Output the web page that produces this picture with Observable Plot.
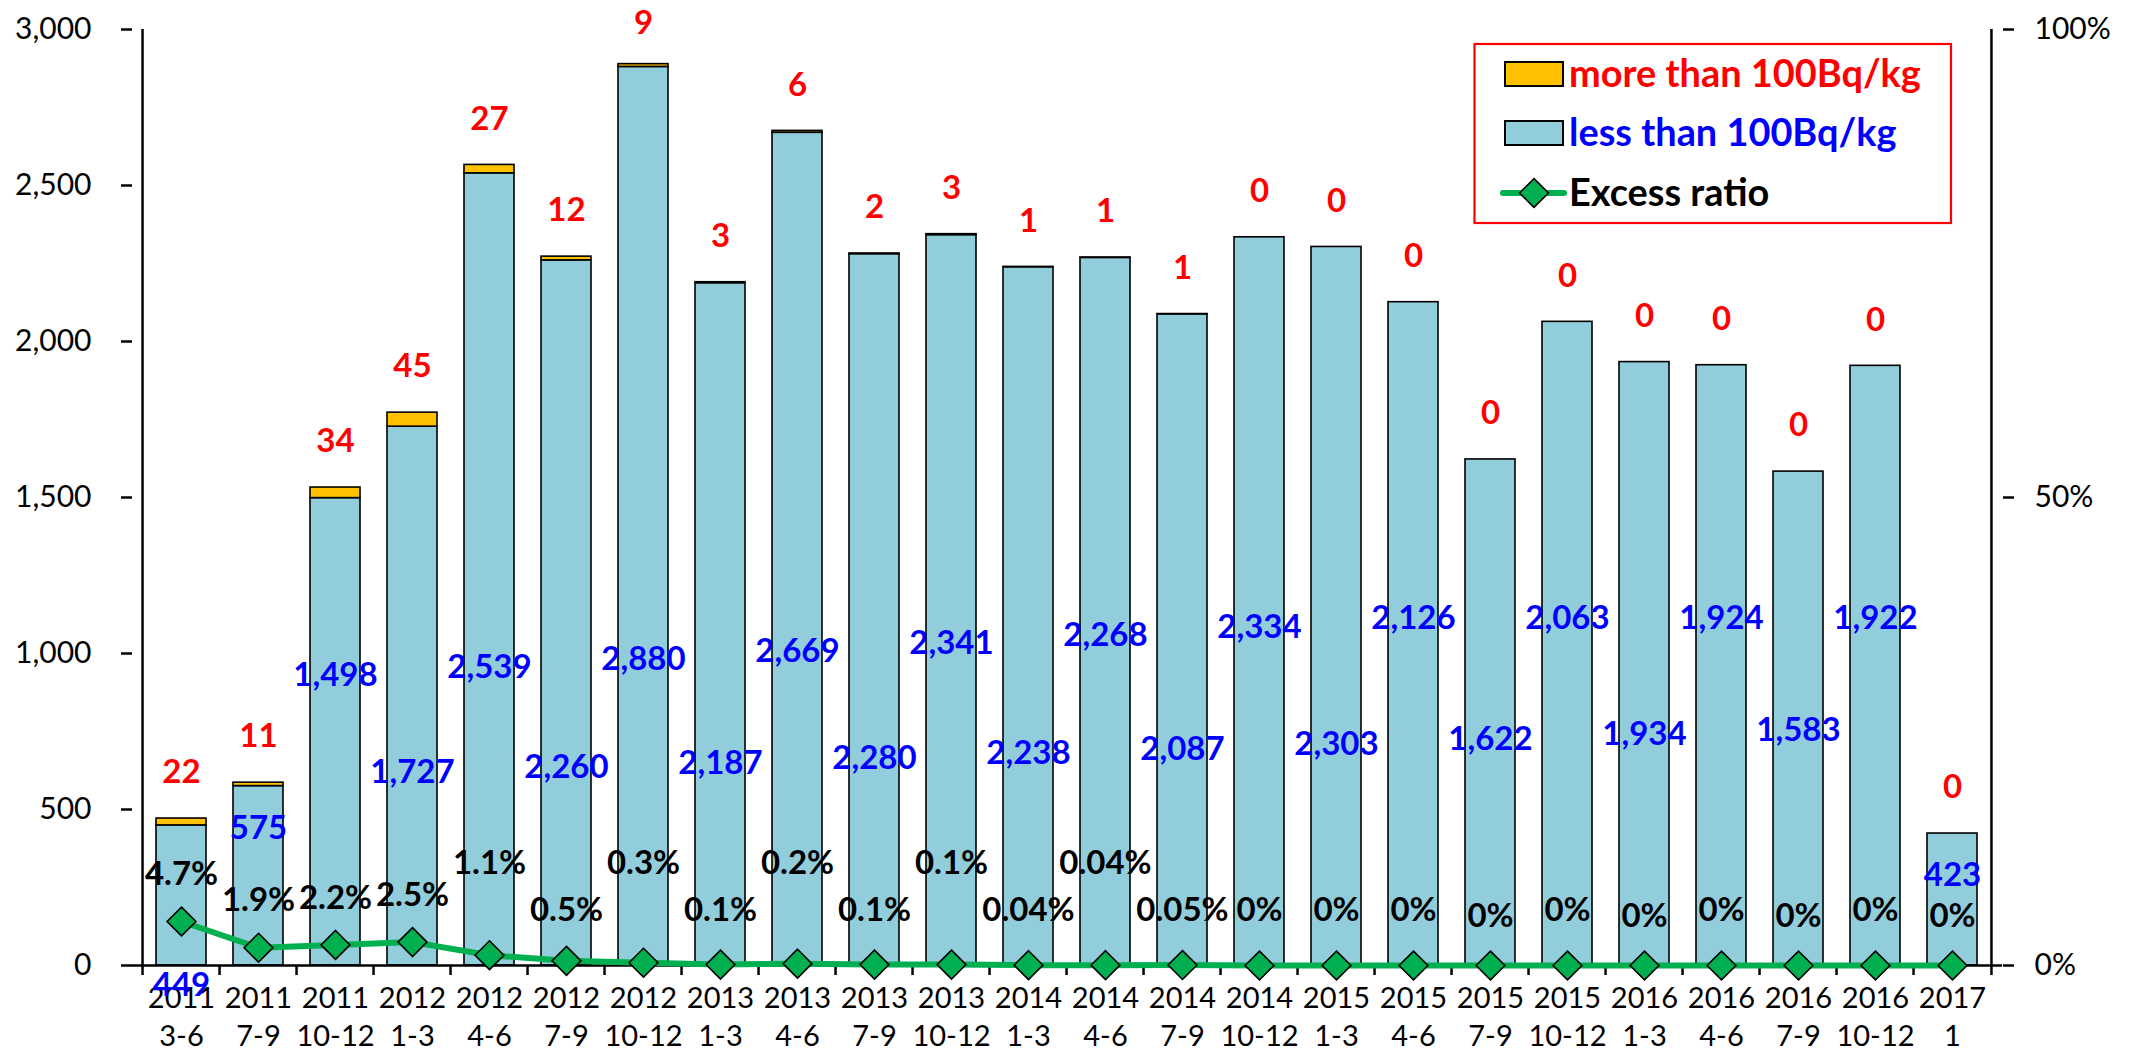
<!DOCTYPE html>
<html>
<head>
<meta charset="utf-8">
<script src="https://cdn.jsdelivr.net/npm/d3@7"></script>
<script src="https://cdn.jsdelivr.net/npm/@observablehq/plot@0.6"></script>
<style>
  html, body { margin: 0; padding: 0; background: #fff; }
  #chart { width: 2130px; height: 1050px; }
</style>
</head>
<body>
<div id="chart"></div>
<script>
// ---- data ----
const periods = ["2011 3-6","2011 7-9","2011 10-12","2012 1-3","2012 4-6","2012 7-9","2012 10-12",
  "2013 1-3","2013 4-6","2013 7-9","2013 10-12","2014 1-3","2014 4-6","2014 7-9","2014 10-12",
  "2015 1-3","2015 4-6","2015 7-9","2015 10-12","2016 1-3","2016 4-6","2016 7-9","2016 10-12","2017 1"];
const lessThan100 = [449,575,1498,1727,2539,2260,2880,2187,2669,2280,2341,2238,2268,2087,2334,2303,2126,1622,2063,1934,1924,1583,1922,423];
const moreThan100 = [22,11,34,45,27,12,9,3,6,2,3,1,1,1,0,0,0,0,0,0,0,0,0,0];
const excessRatio = [4.7,1.9,2.2,2.5,1.1,0.5,0.3,0.1,0.2,0.1,0.1,0.04,0.04,0.05,0,0,0,0,0,0,0,0,0,0];
const ratioLabels = ["4.7%","1.9%","2.2%","2.5%","1.1%","0.5%","0.3%","0.1%","0.2%","0.1%","0.1%","0.04%","0.04%","0.05%",
  "0%","0%","0%","0%","0%","0%","0%","0%","0%","0%"];
const leftTicks = [0,500,1000,1500,2000,2500,3000];
const rightTicks = [0,50,100];
const legendLabels = ["more than 100Bq/kg","less than 100Bq/kg","Excess ratio"];

const rows = periods.map((p, i) => ({
  i, p, less: lessThan100[i], more: moreThan100[i], ratio: excessRatio[i], rlabel: ratioLabels[i]
}));

// ---- layout ----
const W = 2130, H = 1050;
const mL = 132, mR = 128, mT = 29, mB = 85;
const step = (W - mL - mR) / periods.length;
const YMAX = 3000;
const pct = v => v / 100 * YMAX; // right axis (0-100%) mapped onto left axis units

const BLUE = "#92CDDC", ORANGE = "#FFC000", GREEN = "#00B050";
const FONT = "Lato, 'Open Sans', sans-serif";

// label placement rules (in data units)
function blueAnchor(i, v) {
  if (i % 2 === 0) {
    const level = Math.min(929 + 13 * (i - 2), 1112);
    return v - 135 >= level ? {y: level, below: false} : {y: 0, below: true};
  }
  return {y: Math.min(619 + 7.5 * (i - 3), v - 135), below: false};
}
function pctLevel(i, r) {
  if (i < 4) return r + 5;
  if (i % 2 === 0 && i <= 12) return 10.9;
  return (i >= 17 && i % 2 === 1) ? 5.2 : 5.9;
}
rows.forEach(d => {
  const a = blueAnchor(d.i, d.less);
  d.blueY = a.y; d.below = a.below;
  d.pctY = pct(pctLevel(d.i, d.ratio));
  d.redY = Math.min(d.less + d.more + 147, 3020); // a little above the bar, kept inside the picture
});

const fmt = d3.format(",");

const chart = Plot.plot({
  width: W, height: H,
  marginLeft: mL, marginRight: mR, marginTop: mT, marginBottom: mB,
  style: {fontFamily: FONT, background: "#fff", overflow: "visible"},
  x: {type: "band", domain: periods, paddingInner: 0.345, paddingOuter: 0.1725, align: 0.5, axis: null},
  y: {domain: [0, YMAX], axis: null},
  marks: [
    Plot.barY(rows, {x: "p", y: "less", fill: BLUE, stroke: "black", strokeWidth: 1.6}),
    Plot.barY(rows.filter(d => d.more > 0), {x: "p", y1: "less", y2: d => d.less + d.more, fill: ORANGE, stroke: "black", strokeWidth: 1.6}),
    // axes
    Plot.axisY({ticks: leftTicks, tickFormat: fmt, tickSize: 11, tickPadding: 30, fontSize: 30, strokeWidth: 2.5, label: null, anchor: "left"}),
    Plot.axisY({ticks: rightTicks.map(pct), tickFormat: d => Math.round(d / YMAX * 100) + "%", tickSize: 11, tickPadding: 21, fontSize: 30, strokeWidth: 2.5, label: null, anchor: "right"}),
    Plot.axisX({tickSize: 0, tickPadding: 16, tickFormat: p => p.replace(" ", "\n"), fontSize: 29, lineHeight: 1.3, label: null}),
    Plot.ruleY([0], {stroke: "black", strokeWidth: 2.5}),
    Plot.ruleX(periods.slice(1), {x: d => d, dx: -step / 2, y1: -32, y2: 0, stroke: "black", strokeWidth: 2.5}),
    Plot.ruleX([periods[0]], {x: d => d, dx: -step / 2, y1: -32, y2: YMAX, stroke: "black", strokeWidth: 2.5}),
    Plot.ruleX([periods[periods.length - 1]], {x: d => d, dx: step / 2, y1: -32, y2: YMAX, stroke: "black", strokeWidth: 2.5}),
    // excess ratio
    Plot.line(rows, {x: "p", y: d => pct(d.ratio), stroke: GREEN, strokeWidth: 6}),
    Plot.dot(rows, {x: "p", y: d => pct(d.ratio), symbol: "diamond2", r: 13, fill: GREEN, stroke: "black", strokeWidth: 1.6}),
    // labels
    Plot.text(rows, {x: "p", y: "redY", text: d => String(d.more), fill: "#FF0000", fontWeight: "bold", fontSize: 33}),
    Plot.text(rows.filter(d => !d.below), {x: "p", y: "blueY", text: d => fmt(d.less), fill: "#0000FF", fontWeight: "bold", fontSize: 33}),
    Plot.text(rows.filter(d => d.below), {x: "p", y: "blueY", dy: 20, text: d => fmt(d.less), fill: "#0000FF", fontWeight: "bold", fontSize: 33}),
    Plot.text(rows, {x: "p", y: "pctY", text: "rlabel", fill: "black", fontWeight: "bold", fontSize: 33})
  ]
});

document.getElementById("chart").appendChild(chart);

// ---- legend (inside the plot area, top right) ----
const svg = d3.select(chart.tagName.toLowerCase() === "svg" ? chart : chart.querySelector("svg"));
const lg = svg.append("g").attr("font-family", FONT).attr("text-anchor", "start");
lg.append("rect").attr("x", 1474.5).attr("y", 44).attr("width", 476.5).attr("height", 179)
  .attr("fill", "#fff").attr("stroke", "#FF0000").attr("stroke-width", 2.2);
const rowsY = [74, 133, 193];
const colors = ["#FF0000", "#0000FF", "#000000"];
lg.append("rect").attr("x", 1505).attr("y", rowsY[0] - 12).attr("width", 58).attr("height", 24)
  .attr("fill", ORANGE).attr("stroke", "black").attr("stroke-width", 2);
lg.append("rect").attr("x", 1505).attr("y", rowsY[1] - 12).attr("width", 58).attr("height", 24)
  .attr("fill", BLUE).attr("stroke", "black").attr("stroke-width", 2);
lg.append("line").attr("x1", 1503).attr("x2", 1564).attr("y1", rowsY[2]).attr("y2", rowsY[2])
  .attr("stroke", GREEN).attr("stroke-width", 6).attr("stroke-linecap", "round");
lg.append("path").attr("d", d3.symbol(d3.symbolDiamond2, Math.PI * 13 * 13)())
  .attr("transform", `translate(1534,${rowsY[2]})`)
  .attr("fill", GREEN).attr("stroke", "black").attr("stroke-width", 1.6);
const texts = legendLabels.map((t, k) =>
  lg.append("text").attr("x", 1569).attr("y", rowsY[k]).attr("dy", "0.35em")
    .attr("font-size", 35).attr("font-weight", "bold").attr("fill", colors[k]).text(t));
// fit the legend font so the first entry spans the same width as in the original
try {
  const len = texts[0].node().getComputedTextLength();
  if (len > 0) {
    const fs = Math.max(30, Math.min(40, 35 * 352 / len));
    texts.forEach(t => t.attr("font-size", fs));
  }
} catch (e) {}
</script>
</body>
</html>
